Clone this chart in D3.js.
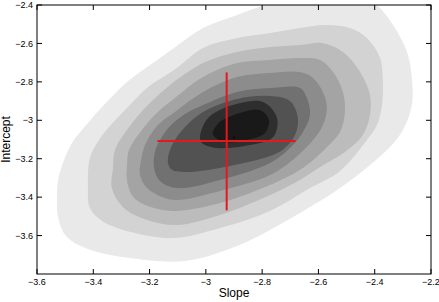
<!DOCTYPE html>
<html>
<head>
<meta charset="utf-8">
<script src="https://cdn.jsdelivr.net/npm/d3@7"></script>
<style>
    html, body { margin: 0; padding: 0; background: #fff; }
    svg { display: block; font-family: "Liberation Sans", Arial, sans-serif; }
    .tick-label { font-size: 9px; fill: #000; }
    .axis-title { font-size: 12px; fill: #000; }
</style>
</head>
<body>
<div id="chart"></div>
<script>
(function() {
    'use strict';

    // Axis ticks
    var xTicks = [-3.6, -3.4, -3.2, -3.0, -2.8, -2.6, -2.4, -2.2];
    var yTicks = [-2.4, -2.6, -2.8, -3.0, -3.2, -3.4, -3.6];
    var xTitle = "Slope";
    var yTitle = "Intercept";

    // Filled contour outlines [slope, intercept], outermost first
    var level1 = [[-3.529,-3.415],[-3.525,-3.311],[-3.504,-3.207],[-3.469,-3.103],[-3.419,-3.014],[-3.362,-2.921],[-3.280,-2.801],[-3.188,-2.702],[-3.113,-2.624],[-3.010,-2.520],[-2.889,-2.452],[-2.790,-2.400],[-2.701,-2.364],[-2.559,-2.343],[-2.435,-2.364],[-2.392,-2.400],[-2.335,-2.504],[-2.285,-2.645],[-2.268,-2.780],[-2.268,-2.921],[-2.296,-3.040],[-2.339,-3.129],[-2.417,-3.233],[-2.523,-3.353],[-2.666,-3.483],[-2.772,-3.571],[-2.889,-3.654],[-3.074,-3.732],[-3.270,-3.717],[-3.419,-3.670],[-3.497,-3.602],[-3.525,-3.503]];
    var level2 = [[-3.419,-3.337],[-3.412,-3.196],[-3.380,-3.103],[-3.341,-3.030],[-3.280,-2.936],[-3.209,-2.832],[-3.103,-2.728],[-3.010,-2.624],[-2.889,-2.572],[-2.772,-2.546],[-2.666,-2.520],[-2.570,-2.504],[-2.488,-2.520],[-2.428,-2.572],[-2.381,-2.676],[-2.371,-2.801],[-2.374,-2.921],[-2.392,-3.025],[-2.428,-3.103],[-2.523,-3.264],[-2.630,-3.353],[-2.772,-3.472],[-2.950,-3.561],[-3.110,-3.613],[-3.252,-3.587],[-3.369,-3.524],[-3.412,-3.457]];
    var level3 = [[-3.334,-3.353],[-3.330,-3.248],[-3.323,-3.155],[-3.270,-3.030],[-3.206,-2.921],[-3.127,-2.816],[-3.010,-2.702],[-2.889,-2.645],[-2.772,-2.619],[-2.666,-2.608],[-2.587,-2.598],[-2.513,-2.645],[-2.452,-2.749],[-2.417,-2.868],[-2.417,-2.973],[-2.442,-3.077],[-2.506,-3.165],[-2.594,-3.243],[-2.666,-3.311],[-2.772,-3.389],[-2.950,-3.493],[-3.103,-3.545],[-3.209,-3.519],[-3.291,-3.457]];
    var level4 = [[-3.280,-3.316],[-3.280,-3.233],[-3.273,-3.155],[-3.216,-3.030],[-3.163,-2.947],[-3.110,-2.884],[-3.010,-2.775],[-2.889,-2.702],[-2.772,-2.686],[-2.666,-2.676],[-2.594,-2.686],[-2.548,-2.749],[-2.513,-2.853],[-2.506,-2.957],[-2.523,-3.061],[-2.566,-3.134],[-2.619,-3.207],[-2.666,-3.259],[-2.772,-3.337],[-2.950,-3.431],[-3.103,-3.472],[-3.184,-3.457],[-3.255,-3.405]];
    var level5 = [[-3.234,-3.285],[-3.230,-3.207],[-3.216,-3.129],[-3.174,-3.030],[-3.110,-2.957],[-3.010,-2.853],[-2.889,-2.775],[-2.772,-2.754],[-2.666,-2.749],[-2.619,-2.780],[-2.584,-2.853],[-2.570,-2.936],[-2.584,-3.025],[-2.619,-3.103],[-2.683,-3.196],[-2.772,-3.285],[-2.950,-3.368],[-3.103,-3.415],[-3.156,-3.399],[-3.209,-3.353]];
    var level6 = [[-3.184,-3.248],[-3.181,-3.165],[-3.163,-3.103],[-3.127,-3.030],[-3.074,-2.967],[-3.010,-2.921],[-2.889,-2.853],[-2.772,-2.832],[-2.666,-2.832],[-2.641,-2.884],[-2.630,-2.973],[-2.655,-3.061],[-2.701,-3.144],[-2.772,-3.222],[-2.950,-3.311],[-3.103,-3.353],[-3.163,-3.316]];
    var level7 = [[-3.135,-3.217],[-3.120,-3.129],[-3.074,-3.035],[-3.010,-2.957],[-2.889,-2.889],[-2.772,-2.874],[-2.701,-2.900],[-2.673,-2.988],[-2.683,-3.077],[-2.719,-3.144],[-2.772,-3.186],[-2.950,-3.248],[-3.067,-3.269],[-3.120,-3.259]];
    var level8 = [[-3.021,-3.087],[-2.992,-2.988],[-2.904,-2.921],[-2.797,-2.905],[-2.747,-2.988],[-2.761,-3.087],[-2.843,-3.129],[-2.960,-3.144],[-3.014,-3.118]];
    var level9 = [[-2.975,-3.071],[-2.950,-3.009],[-2.879,-2.962],[-2.808,-2.947],[-2.776,-2.999],[-2.790,-3.066],[-2.857,-3.103],[-2.936,-3.113]];
    var levels = [level1, level2, level3, level4, level5, level6, level7, level8, level9];

    // Best fit and error bars
    var bestFit = [-2.926, -3.108];
    var slopeRange = [-3.172, -2.681];
    var interceptRange = [-3.469, -2.751];
    var maxPoint = [-2.900, -3.090];

    var shades = ["#e9e9e9", "#d3d3d3", "#bcbcbc", "#a4a4a4", "#8c8c8c", "#717171", "#525252", "#2e2e2e", "#191919"];

    var margin = { top: 5, right: 8, bottom: 28, left: 37 };
    var width = 439, height = 302;
    var plotW = width - margin.left - margin.right;
    var plotH = height - margin.top - margin.bottom;

    var xScale = d3.scaleLinear().domain([-3.6, -2.2]).range([0, plotW]);
    var yScale = d3.scaleLinear().domain([-3.8, -2.4]).range([plotH, 0]);

    var svg = d3.select("#chart").append("svg")
        .attr("width", width)
        .attr("height", height);

    svg.append("defs").append("clipPath")
        .attr("id", "plot-clip")
        .append("rect")
        .attr("width", plotW)
        .attr("height", plotH);

    var g = svg.append("g")
        .attr("transform", "translate(" + margin.left + "," + margin.top + ")");

    var contourLine = d3.line()
        .curve(d3.curveCatmullRomClosed.alpha(0.5))
        .x(function(d) { return xScale(d[0]); })
        .y(function(d) { return yScale(d[1]); });

    g.append("g")
        .attr("clip-path", "url(#plot-clip)")
        .selectAll("path")
        .data(levels)
        .enter()
        .append("path")
        .attr("d", contourLine)
        .attr("fill", function(d, i) { return shades[i]; })
        .attr("stroke", "none");

    // Error cross
    var red = "#e3191c";
    g.append("line")
        .attr("x1", xScale(slopeRange[0])).attr("x2", xScale(slopeRange[1]))
        .attr("y1", yScale(bestFit[1])).attr("y2", yScale(bestFit[1]))
        .attr("stroke", red).attr("stroke-width", 2);
    g.append("line")
        .attr("x1", xScale(bestFit[0])).attr("x2", xScale(bestFit[0]))
        .attr("y1", yScale(interceptRange[0])).attr("y2", yScale(interceptRange[1]))
        .attr("stroke", red).attr("stroke-width", 2);
    g.append("circle")
        .attr("cx", xScale(maxPoint[0]))
        .attr("cy", yScale(maxPoint[1]))
        .attr("r", 0.9)
        .attr("fill", "#000");

    // Axes, MATLAB box style with inward ticks
    var fmt = function(d) { return d3.format("")(d).replace("-", "\u2212"); };
    var tickLen = 5;

    g.append("rect")
        .attr("width", plotW)
        .attr("height", plotH)
        .attr("fill", "none")
        .attr("stroke", "#000")
        .attr("stroke-width", 1);

    xTicks.forEach(function(t) {
        var x = xScale(t);
        g.append("line").attr("x1", x).attr("x2", x).attr("y1", plotH).attr("y2", plotH - tickLen).attr("stroke", "#000");
        g.append("line").attr("x1", x).attr("x2", x).attr("y1", 0).attr("y2", tickLen).attr("stroke", "#000");
        g.append("text")
            .attr("class", "tick-label")
            .attr("x", x)
            .attr("y", plotH + 11)
            .attr("text-anchor", "middle")
            .text(fmt(t));
    });

    yTicks.forEach(function(t) {
        var y = yScale(t);
        g.append("line").attr("x1", 0).attr("x2", tickLen).attr("y1", y).attr("y2", y).attr("stroke", "#000");
        g.append("line").attr("x1", plotW).attr("x2", plotW - tickLen).attr("y1", y).attr("y2", y).attr("stroke", "#000");
        g.append("text")
            .attr("class", "tick-label")
            .attr("x", -4)
            .attr("y", y)
            .attr("dy", "0.35em")
            .attr("text-anchor", "end")
            .text(fmt(t));
    });

    g.append("text")
        .attr("class", "axis-title")
        .attr("x", plotW / 2)
        .attr("y", plotH + 23)
        .attr("text-anchor", "middle")
        .text(xTitle);

    g.append("text")
        .attr("class", "axis-title")
        .attr("transform", "translate(" + (-27) + "," + (plotH / 2) + ") rotate(-90)")
        .attr("text-anchor", "middle")
        .text(yTitle);

})();
</script>
</body>
</html>
